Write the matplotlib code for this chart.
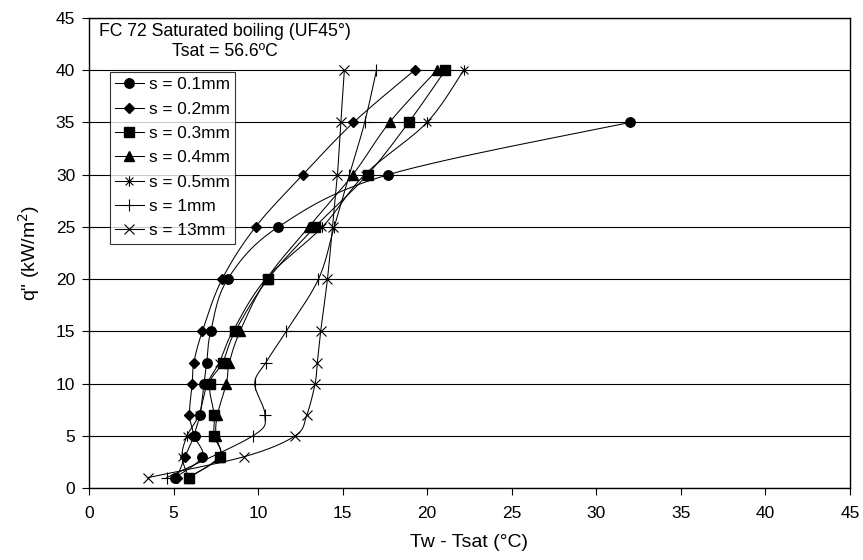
import numpy as np
import matplotlib
matplotlib.use("Agg")
import matplotlib.pyplot as plt
from matplotlib.path import Path

plt.rcParams['font.family'] = ['Liberation Sans', 'DejaVu Sans']

# ---- data ----
q_01 = [1, 3, 5, 7, 10, 12, 15, 20, 25, 30, 35]
t_01 = [5.1, 6.7, 6.27, 6.57, 6.8, 6.96, 7.2, 8.2, 11.2, 17.7, 32.0]

q_02 = [1, 3, 5, 7, 10, 12, 15, 20, 25, 30, 35, 40]
t_02 = [5.2, 5.68, 6.15, 5.94, 6.1, 6.2, 6.7, 7.87, 9.85, 12.65, 15.64, 19.25]

q_03 = [1, 3, 5, 7, 10, 12, 15, 20, 25, 30, 35, 40]
t_03 = [5.9, 7.75, 7.4, 7.4, 7.14, 7.9, 8.64, 10.58, 13.37, 16.47, 18.9, 21.07]

q_04 = [1, 3, 5, 7, 10, 12, 15, 20, 25, 30, 35, 40]
t_04 = [5.9, 7.7, 7.5, 7.59, 8.12, 8.3, 8.93, 10.5, 13.0, 15.6, 17.77, 20.57]

q_05 = [1, 3, 5, 7, 10, 12, 15, 20, 25, 30, 35, 40]
t_05 = [5.9, 5.5, 5.8, 6.5, 7.0, 7.7, 8.5, 10.45, 13.8, 16.3, 19.98, 22.15]

q_1 = [1, 5, 7, 10, 12, 15, 20, 25, 30, 35, 40]
t_1 = [4.6, 9.7, 10.4, 9.8, 10.45, 11.66, 13.57, 14.5, 15.4, 16.3, 17.0]

q_13 = [1, 3, 5, 7, 10, 12, 15, 20, 25, 30, 35, 40]
t_13 = [3.5, 9.18, 12.19, 12.88, 13.37, 13.5, 13.7, 14.1, 14.4, 14.69, 14.89, 15.1]

labels = ["s = 0.1mm", "s = 0.2mm", "s = 0.3mm", "s = 0.4mm",
          "s = 0.5mm", "s = 1mm", "s = 13mm"]
x_ticks = [0, 5, 10, 15, 20, 25, 30, 35, 40, 45]
y_ticks = [0, 5, 10, 15, 20, 25, 30, 35, 40, 45]

# asterisk marker (vertical bar + X)
ast = Path([(0, -1), (0, 1), (-0.75, -0.75), (0.75, 0.75), (-0.75, 0.75), (0.75, -0.75)],
           [Path.MOVETO, Path.LINETO, Path.MOVETO, Path.LINETO, Path.MOVETO, Path.LINETO])

series = [
    (t_01, q_01, dict(marker='o', ms=6.8)),
    (t_02, q_02, dict(marker='D', ms=5.2)),
    (t_03, q_03, dict(marker='s', ms=6.5)),
    (t_04, q_04, dict(marker='^', ms=7)),
    (t_05, q_05, dict(marker=ast, ms=7.5, mew=0.8)),
    (t_1, q_1, dict(marker='+', ms=8, mew=0.8)),
    (t_13, q_13, dict(marker='x', ms=7, mew=0.8)),
]

fig = plt.figure(figsize=(8.63, 5.60), dpi=100)
ax = fig.add_axes([89 / 863, 1 - 488 / 560, (850 - 89) / 863, (488 - 18) / 560])
ax.set_xlim(0, 45)
ax.set_ylim(0, 45)
ax.set_xticks(x_ticks)
ax.set_yticks(y_ticks)
ax.yaxis.grid(True, color='black', lw=0.8)
ax.set_axisbelow(True)
for sp in ax.spines.values():
    sp.set_color('black')
    sp.set_linewidth(1.0)
ax.tick_params(direction='out', length=5, width=0.8, labelsize=12.5, colors='black')
ax.tick_params(axis='x', pad=8)
ax.tick_params(axis='y', pad=5)
ax.set_xlabel("Tw - Tsat (°C)", fontsize=14, labelpad=9)
ax.set_ylabel('q" (kW/m$^2$)', fontsize=14, labelpad=10)


def smooth(xs, ys):
    """Catmull-Rom style smoothing in display space (visual only)."""
    pts = ax.transData.transform(np.column_stack([xs, ys]))
    n = len(pts)
    out = [pts[0]]
    tt = np.linspace(0, 1, 16)[1:]
    for i in range(n - 1):
        p0 = pts[i - 1] if i > 0 else pts[i]
        p1 = pts[i]
        p2 = pts[i + 1]
        p3 = pts[i + 2] if i + 2 < n else pts[i + 1]
        c1 = p1 + (p2 - p0) / 6.0
        c2 = p2 - (p3 - p1) / 6.0
        for t in tt:
            b = ((1 - t) ** 3) * p1 + 3 * ((1 - t) ** 2) * t * c1 + 3 * (1 - t) * t * t * c2 + t ** 3 * p2
            out.append(b)
    out = np.array(out)
    return ax.transData.inverted().transform(out).T

handles = []
for (xs, ys, mk), lab in zip(series, labels):
    sx, sy = smooth(xs, ys)
    ax.plot(sx, sy, color='black', lw=0.75, zorder=3)
    ax.plot(xs, ys, ls='none', color='black', mfc='black', mec='black', zorder=4, **mk)
    h, = ax.plot([], [], color='black', lw=0.75, mfc='black', mec='black', label=lab, **mk)
    handles.append(h)

leg = ax.legend(handles=handles, loc='upper left', bbox_to_anchor=(21 / 761, (488 - 72) / 470),
                frameon=True, fancybox=False, edgecolor='black', fontsize=12.4,
                handlelength=1.65, handletextpad=0.3, borderpad=0.3, labelspacing=0.54,
                borderaxespad=0)
leg.get_frame().set_linewidth(0.8)

ax.text(10 / 761, (488 - 31) / 470, "FC 72 Saturated boiling (UF45°)", transform=ax.transAxes,
        fontsize=12.7, va='center', ha='left')
ax.text(83 / 761, (488 - 52) / 470, "Tsat = 56.6ºC", transform=ax.transAxes,
        fontsize=12.7, va='center', ha='left')

fig.savefig("out.png", dpi=100)
